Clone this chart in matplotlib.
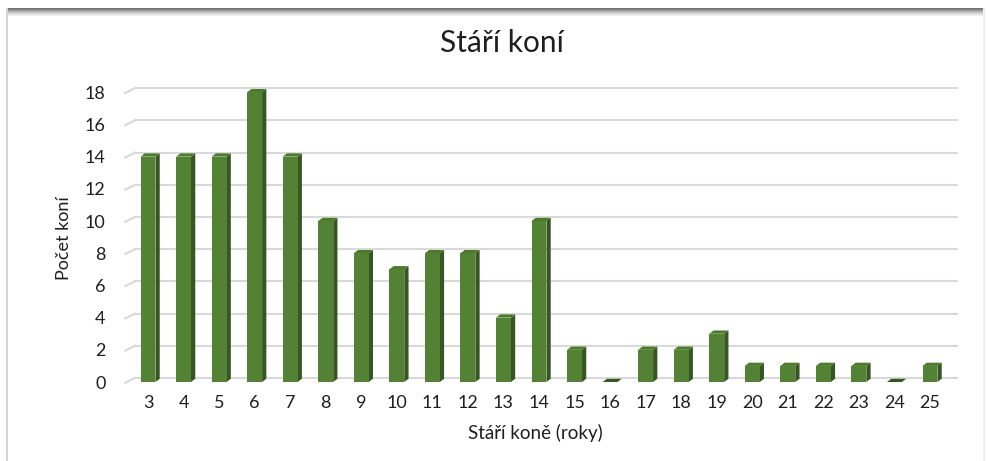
import numpy as np
import matplotlib.pyplot as plt
from matplotlib.patches import Polygon, Rectangle

plt.rcParams['font.family'] = ['Lato', 'DejaVu Sans']

# data
stari = ['3', '4', '5', '6', '7', '8', '9', '10', '11', '12', '13', '14',
         '15', '16', '17', '18', '19', '20', '21', '22', '23', '24', '25']
pocet = [14, 14, 14, 18, 14, 10, 8, 7, 8, 8, 4, 10,
         2, 0, 2, 2, 3, 1, 1, 1, 1, 0, 1]
y_ticks = [0, 2, 4, 6, 8, 10, 12, 14, 16, 18]

W, H = 987, 461
fig = plt.figure(figsize=(W / 100, H / 100), dpi=100)
fig.patch.set_facecolor('white')

# card frame (left line + shaded top band)
fig.patches.append(Rectangle((6 / W, 0), 2 / W, 453 / H, transform=fig.transFigure,
                             facecolor='#d6d6d6', edgecolor='none'))
fig.patches.append(Rectangle((983 / W, 0), 2 / W, 453 / H, transform=fig.transFigure,
                             facecolor='#f0f0f0', edgecolor='none'))
band = fig.add_axes([6 / W, (H - 16) / H, 979 / W, 8 / H])
band.imshow(np.linspace(0, 1, 20).reshape(-1, 1), cmap='Greys_r', vmin=-0.6, vmax=1.15,
            aspect='auto', extent=[0, 1, 0, 1])
band.axis('off')

# plot area
left, right, bottom, top = 125, 957, 382, 80
ax = fig.add_axes([left / W, (H - bottom) / H, (right - left) / W, (bottom - top) / H])
x = np.arange(len(stari))
ax.set_xlim(-0.647, 22.76)
ax.set_ylim(0, 18.76)
for s in ax.spines.values():
    s.set_visible(False)

# back-wall gridlines with small floor stubs
gdy = 0.25
for v in y_ticks:
    ax.plot([-0.37, 22.76], [v + gdy, v + gdy], color='#d9d9d9', lw=1.5, zorder=1,
            clip_on=False)
    ax.plot([-0.64, -0.37], [v - 0.05, v + gdy], color='#d9d9d9', lw=1.5, zorder=1,
            clip_on=False)

# pseudo 3D bars
bw, dx, dy = 0.42, 0.12, 0.2
for xi, v in zip(x, pocet):
    x0, x1 = xi - bw / 2, xi + bw / 2
    ax.add_patch(Polygon([(x1, 0), (x1 + dx, dy), (x1 + dx, v + dy), (x1, v)],
                         closed=True, facecolor='#375623', edgecolor='none', zorder=3))
    ax.add_patch(Polygon([(x0, v), (x1, v), (x1 + dx, v + dy), (x0 + dx, v + dy)],
                         closed=True, facecolor='#4a7a2a' if v else '#375623',
                         edgecolor='none', zorder=3))
    if v:
        ax.add_patch(Rectangle((x0, 0), bw, v, facecolor='#548235', edgecolor='none',
                               zorder=4))

txt = '#1f1f1f'
ax.set_xticks(x)
ax.set_xticklabels(stari, fontsize=13, color=txt)
ax.set_yticks(y_ticks)
ax.set_yticklabels([str(t) for t in y_ticks], fontsize=13, color=txt)
ax.tick_params(axis='x', length=0, pad=9)
ax.tick_params(axis='y', length=0, pad=14)

fig.text(535 / W, 1 - 433 / H, 'Stáří koně (roky)', fontsize=13.5, color=txt,
         ha='center', va='center')
fig.text(64 / W, 1 - 238 / H, 'Počet koní', fontsize=13, color=txt, rotation=90,
         ha='center', va='center')
fig.text(502 / W, 1 - 43 / H, 'Stáří koní', fontsize=21.5, color=txt,
         ha='center', va='center')

fig.savefig('out.png', dpi=100, facecolor='white')
